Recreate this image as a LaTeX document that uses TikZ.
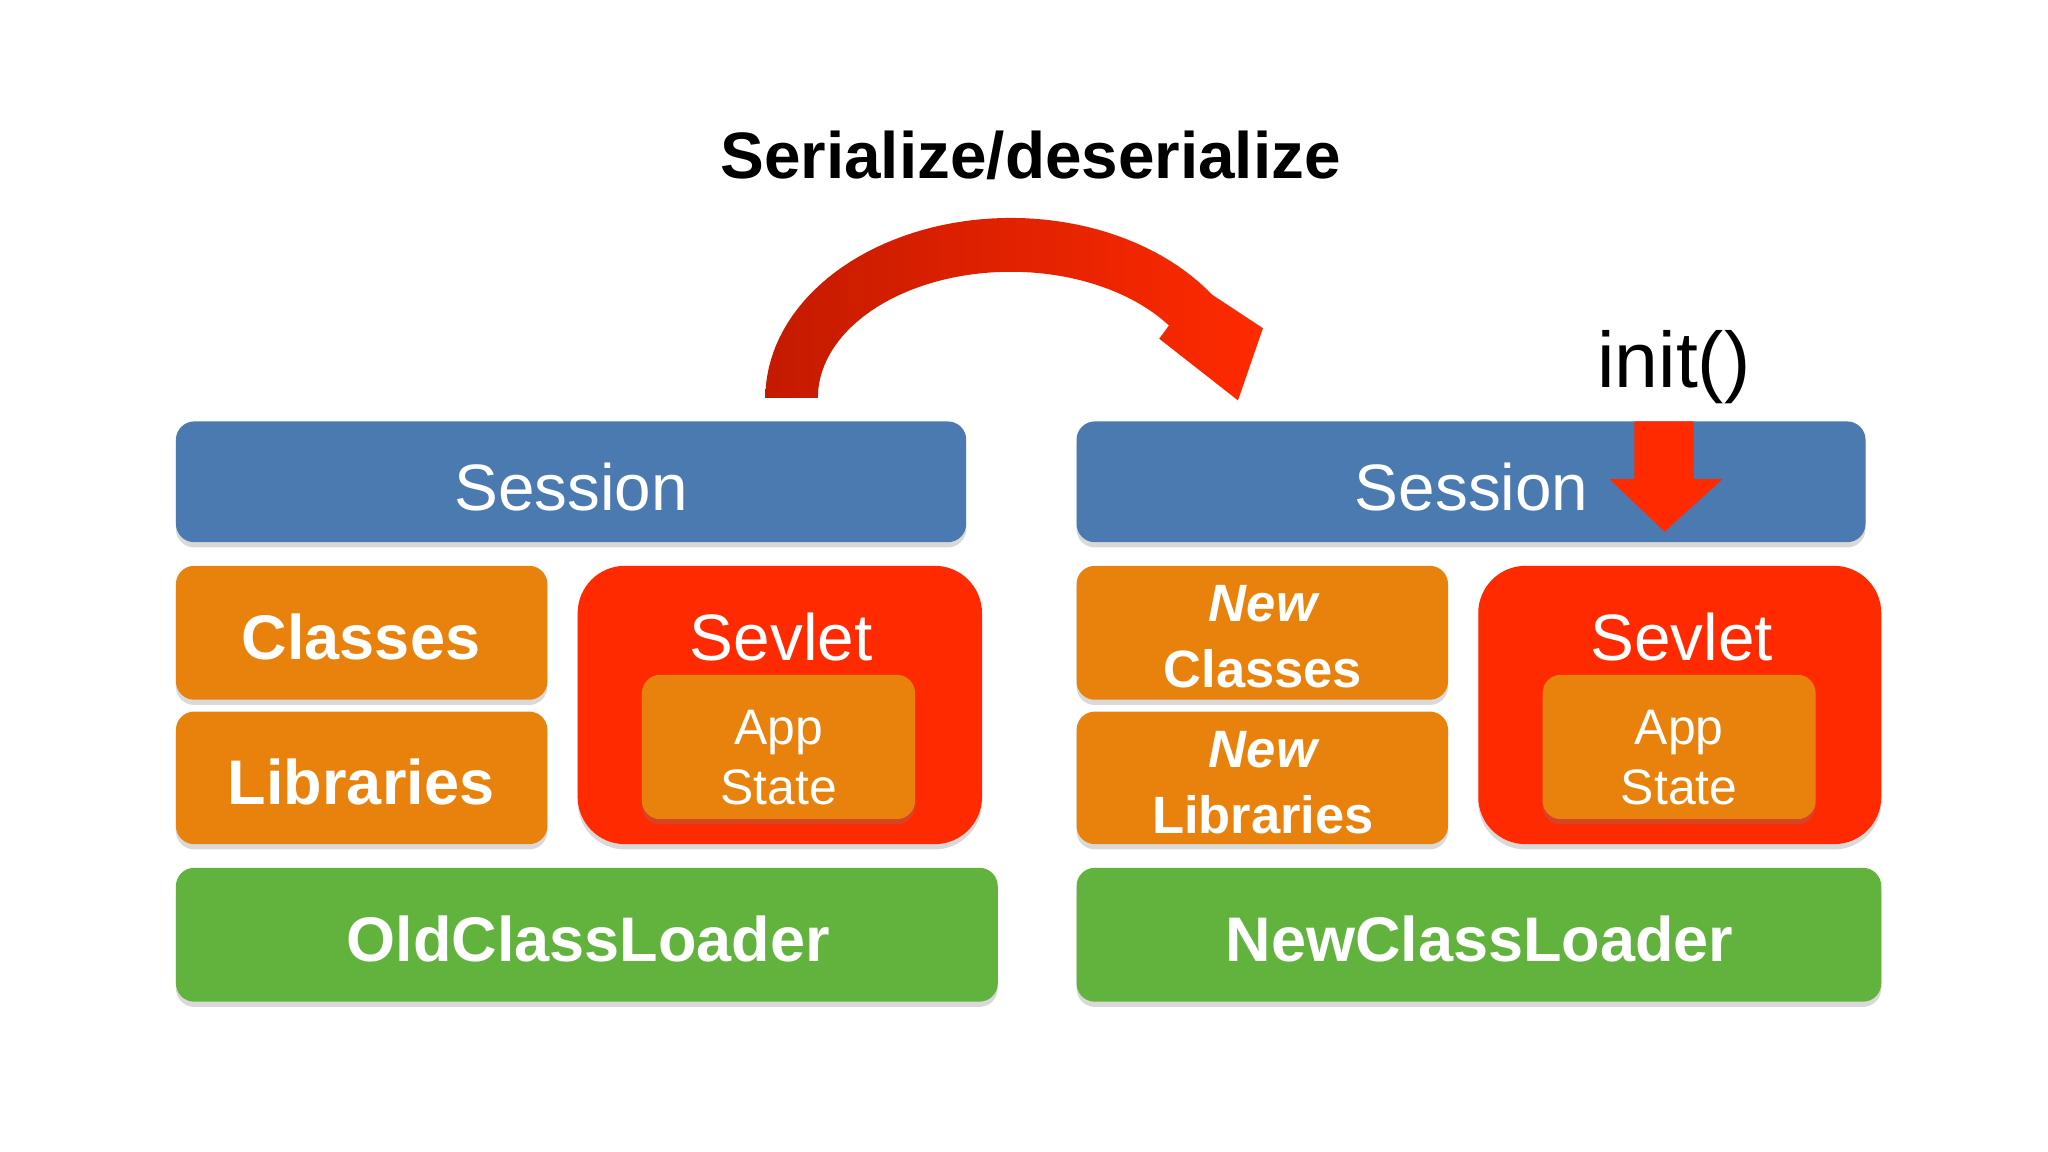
\documentclass[tikz,border=0pt]{standalone}
\usepackage{fontspec}
\setmainfont{Liberation Sans}
\usetikzlibrary{shadows}
\definecolor{sblue}{HTML}{4A7AB0}
\definecolor{sorange}{HTML}{E8820C}
\definecolor{sred}{HTML}{FF2A00}
\definecolor{sdred}{HTML}{C41A00}
\definecolor{sgreen}{HTML}{62B23E}
\begin{document}
\begin{tikzpicture}[x=1pt,y=-1pt,
 boxx/.style={rounded corners=14pt,drop shadow={shadow xshift=0pt,shadow yshift=-4pt,opacity=.3}},
 wtxt/.style={text=white,align=center,inner sep=0pt}]
\useasboundingbox (0,0) rectangle (1560,877.5);
\newcommand{\bx}[6]{\path[boxx,fill=#5] (#1,#2) rectangle (#3,#4); \node[wtxt] (#6) at ({(#1+#3)/2},{(#2+#4)/2}) {};}
% left
\bx{134}{321}{736}{413}{sblue}{sesL}
\node[wtxt,font=\fontsize{50}{60}\selectfont] (tsesL) at (435,371) {Session};
\bx{134}{431}{417}{533}{sorange}{clsL}
\node[wtxt,font=\fontsize{48}{56}\selectfont\bfseries] (tclsL) at (275,485) {Classes};
\bx{134}{542}{417}{643}{sorange}{libL}
\node[wtxt,font=\fontsize{48}{56}\selectfont\bfseries] (tlibL) at (275,596) {Libraries};
\path[boxx,rounded corners=36pt,fill=sred] (440,431) rectangle (748,643);
\node[wtxt,font=\fontsize{50}{60}\selectfont] (svL) at (595,485) {Sevlet};
\path[boxx,fill=sorange] (489,514) rectangle (697,624);
\node[wtxt,font=\fontsize{38}{46}\selectfont] (asL) at (593,577) {App\\State};
\bx{134}{661}{760}{763}{sgreen}{ldL}
\node[wtxt,font=\fontsize{48}{56}\selectfont\bfseries] (tldL) at (448,715) {OldClassLoader};
% right
\bx{820}{321}{1421}{413}{sblue}{sesR}
\node[wtxt,font=\fontsize{50}{60}\selectfont] (tsesR) at (1121,371) {Session};
\bx{820}{431}{1103}{533}{sorange}{clsR}
\node[wtxt,font=\fontsize{40}{50}\selectfont\bfseries] (tclsR) at (962,485) {\itshape New\\Classes};
\bx{820}{542}{1103}{643}{sorange}{libR}
\node[wtxt,font=\fontsize{40}{50}\selectfont\bfseries] (tlibR) at (962,596) {\itshape New\\Libraries};
\path[boxx,rounded corners=36pt,fill=sred] (1126,431) rectangle (1433,643);
\node[wtxt,font=\fontsize{50}{60}\selectfont] (svR) at (1281,485) {Sevlet};
\path[boxx,fill=sorange] (1175,514) rectangle (1383,624);
\node[wtxt,font=\fontsize{38}{46}\selectfont] (asR) at (1279,577) {App\\State};
\bx{820}{661}{1433}{763}{sgreen}{ldR}
\node[wtxt,font=\fontsize{48}{56}\selectfont\bfseries] (tldR) at (1127,715) {NewClassLoader};
% title and init
\node[font=\fontsize{50}{60}\selectfont\bfseries] (title) at (785,118) {Serialize/deserialize};
\node[font=\fontsize{60}{70}\selectfont] (init) at (1275,280) {init()};
% down arrow
\fill[sred] (1245,321) -- (1290,321) -- (1290,365) -- (1312,365) -- (1268,405) -- (1226,365) -- (1245,365) -- cycle;
% curved arrow
\shade[left color=sdred,right color=sred]
 plot[domain=180:35,samples=60] ({770+187*cos(\x)},{303-137*sin(\x)})
 -- (962,250) -- (943,305) -- (883,258)
 -- plot[domain=35:180,samples=60] ({770+147*cos(\x)},{303-96*sin(\x)}) -- cycle;
\end{tikzpicture}
\end{document}
